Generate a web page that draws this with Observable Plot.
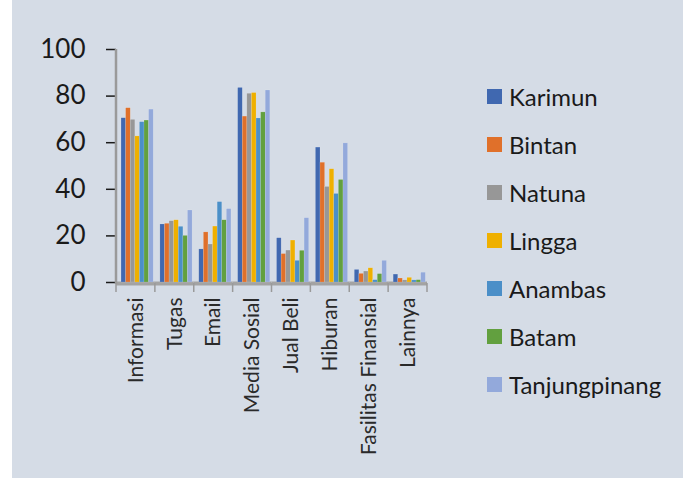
<!DOCTYPE html>
<html>
<head>
<meta charset="utf-8">
<script src="https://cdn.jsdelivr.net/npm/d3@7"></script>
<script src="https://cdn.jsdelivr.net/npm/@observablehq/plot@0.6"></script>
<style>
  html, body { margin: 0; padding: 0; background: #ffffff; }
  #wrap { position: relative; width: 683px; height: 478px; overflow: hidden; background: #ffffff; }
  #bg { position: absolute; left: 12px; top: 0; width: 671px; height: 478px; background: #d5dce6; }
  #chart { position: absolute; left: 0; top: 0; }
  #chart svg { background: transparent; }
  #legend { position: absolute; left: 487px; top: 72px; font-family: Lato, "Open Sans", sans-serif; font-size: 24px; color: #1a1a1a; }
  .row { display: flex; align-items: center; height: 48.1px; }
  .sw { width: 15px; height: 15px; margin-right: 7px; }
</style>
</head>
<body>
<div id="wrap">
  <div id="bg"></div>
  <div id="chart"></div>
  <div id="legend"></div>
</div>
<script>
const categories = ["Informasi", "Tugas", "Email", "Media Sosial", "Jual Beli", "Hiburan", "Fasilitas Finansial", "Lainnya"];
const series = ["Karimun", "Bintan", "Natuna", "Lingga", "Anambas", "Batam", "Tanjungpinang"];
const colors = ["#4068b0", "#e0702a", "#979797", "#efb000", "#4b8fc8", "#62a03f", "#93a9db"];

const karimun       = [70.5, 24.9, 14.2, 83.5, 19.0, 57.9, 5.4, 3.4];
const bintan        = [74.8, 25.2, 21.5, 71.2, 12.2, 51.4, 3.7, 1.7];
const natuna        = [69.8, 26.3, 16.3, 81.0, 13.7, 41.0, 4.7, 0.9];
const lingga        = [62.7, 26.7, 24.0, 81.3, 18.0, 48.6, 6.1, 2.0];
const anambas       = [68.8, 23.9, 34.5, 70.4, 9.3, 38.0, 1.0, 0.9];
const batam         = [69.5, 20.0, 26.7, 73.0, 13.6, 44.0, 3.6, 1.0];
const tanjungpinang = [74.2, 30.9, 31.5, 82.4, 27.6, 59.7, 9.3, 4.2];

const yTicks = [0, 20, 40, 60, 80, 100];

const valuesBySeries = [karimun, bintan, natuna, lingga, anambas, batam, tanjungpinang];
const data = [];
categories.forEach((c, i) => {
  series.forEach((s, j) => {
    data.push({category: c, series: s, value: valuesBySeries[j][i]});
  });
});

const svg = Plot.plot({
  width: 683,
  height: 478,
  marginLeft: 116,
  marginRight: 256,
  marginTop: 49,
  marginBottom: 196,
  style: {background: "transparent", fontFamily: "Lato, 'Open Sans', sans-serif", color: "#1a1a1a", overflow: "visible"},
  fx: {domain: categories, paddingInner: 0, paddingOuter: 0, round: false, tickSize: 0, tickPadding: 15, tickRotate: -90, label: null},
  x: {domain: series, axis: null, paddingInner: 0, paddingOuter: 0.73, align: 0.75, round: false},
  y: {domain: [0, 100], ticks: yTicks, tickSize: 10, tickPadding: 21, label: null},
  color: {domain: series, range: colors},
  marks: [
    Plot.ruleY([0], {stroke: "#a3a3a3", strokeWidth: 4, dy: 1}),
    Plot.barY(data, {fx: "category", x: "series", y: "value", fill: "series", stroke: "#ffffff", strokeOpacity: 0.25, strokeWidth: 0.5})
  ]
});

// axis styling and category boundary ticks using the plot's own scales
const sel = d3.select(svg);
sel.selectAll('g[aria-label="y-axis tick"]').attr("stroke", "#9a9a9a").attr("stroke-width", 1.5);
sel.selectAll('g[aria-label="y-axis tick label"]').attr("fill", "#1a1a1a").attr("font-size", 26);
sel.selectAll('g[aria-label="fx-axis tick label"]').attr("fill", "#2a2a2a").attr("font-size", 21);
const fx = svg.scale("fx");
const y = svg.scale("y");
const y0 = y.apply(0), y100 = y.apply(100);
const edges = categories.map(c => fx.apply(c));
edges.push(fx.apply(categories[categories.length - 1]) + fx.bandwidth);
const g = sel.append("g").attr("stroke", "#9a9a9a").attr("stroke-width", 1.5);
edges.forEach(e => {
  g.append("line").attr("x1", e).attr("x2", e).attr("y1", y0 + 1).attr("y2", y0 + 10);
});
g.append("line").attr("x1", edges[0]).attr("x2", edges[0]).attr("y1", y100).attr("y2", y0 + 2).attr("stroke-width", 2.5);

document.getElementById("chart").appendChild(svg);

const legend = document.getElementById("legend");
series.forEach((s, i) => {
  const row = document.createElement("div");
  row.className = "row";
  const sw = document.createElement("div");
  sw.className = "sw";
  sw.style.background = colors[i];
  const t = document.createElement("span");
  t.textContent = s;
  row.appendChild(sw);
  row.appendChild(t);
  legend.appendChild(row);
});
</script>
</body>
</html>
